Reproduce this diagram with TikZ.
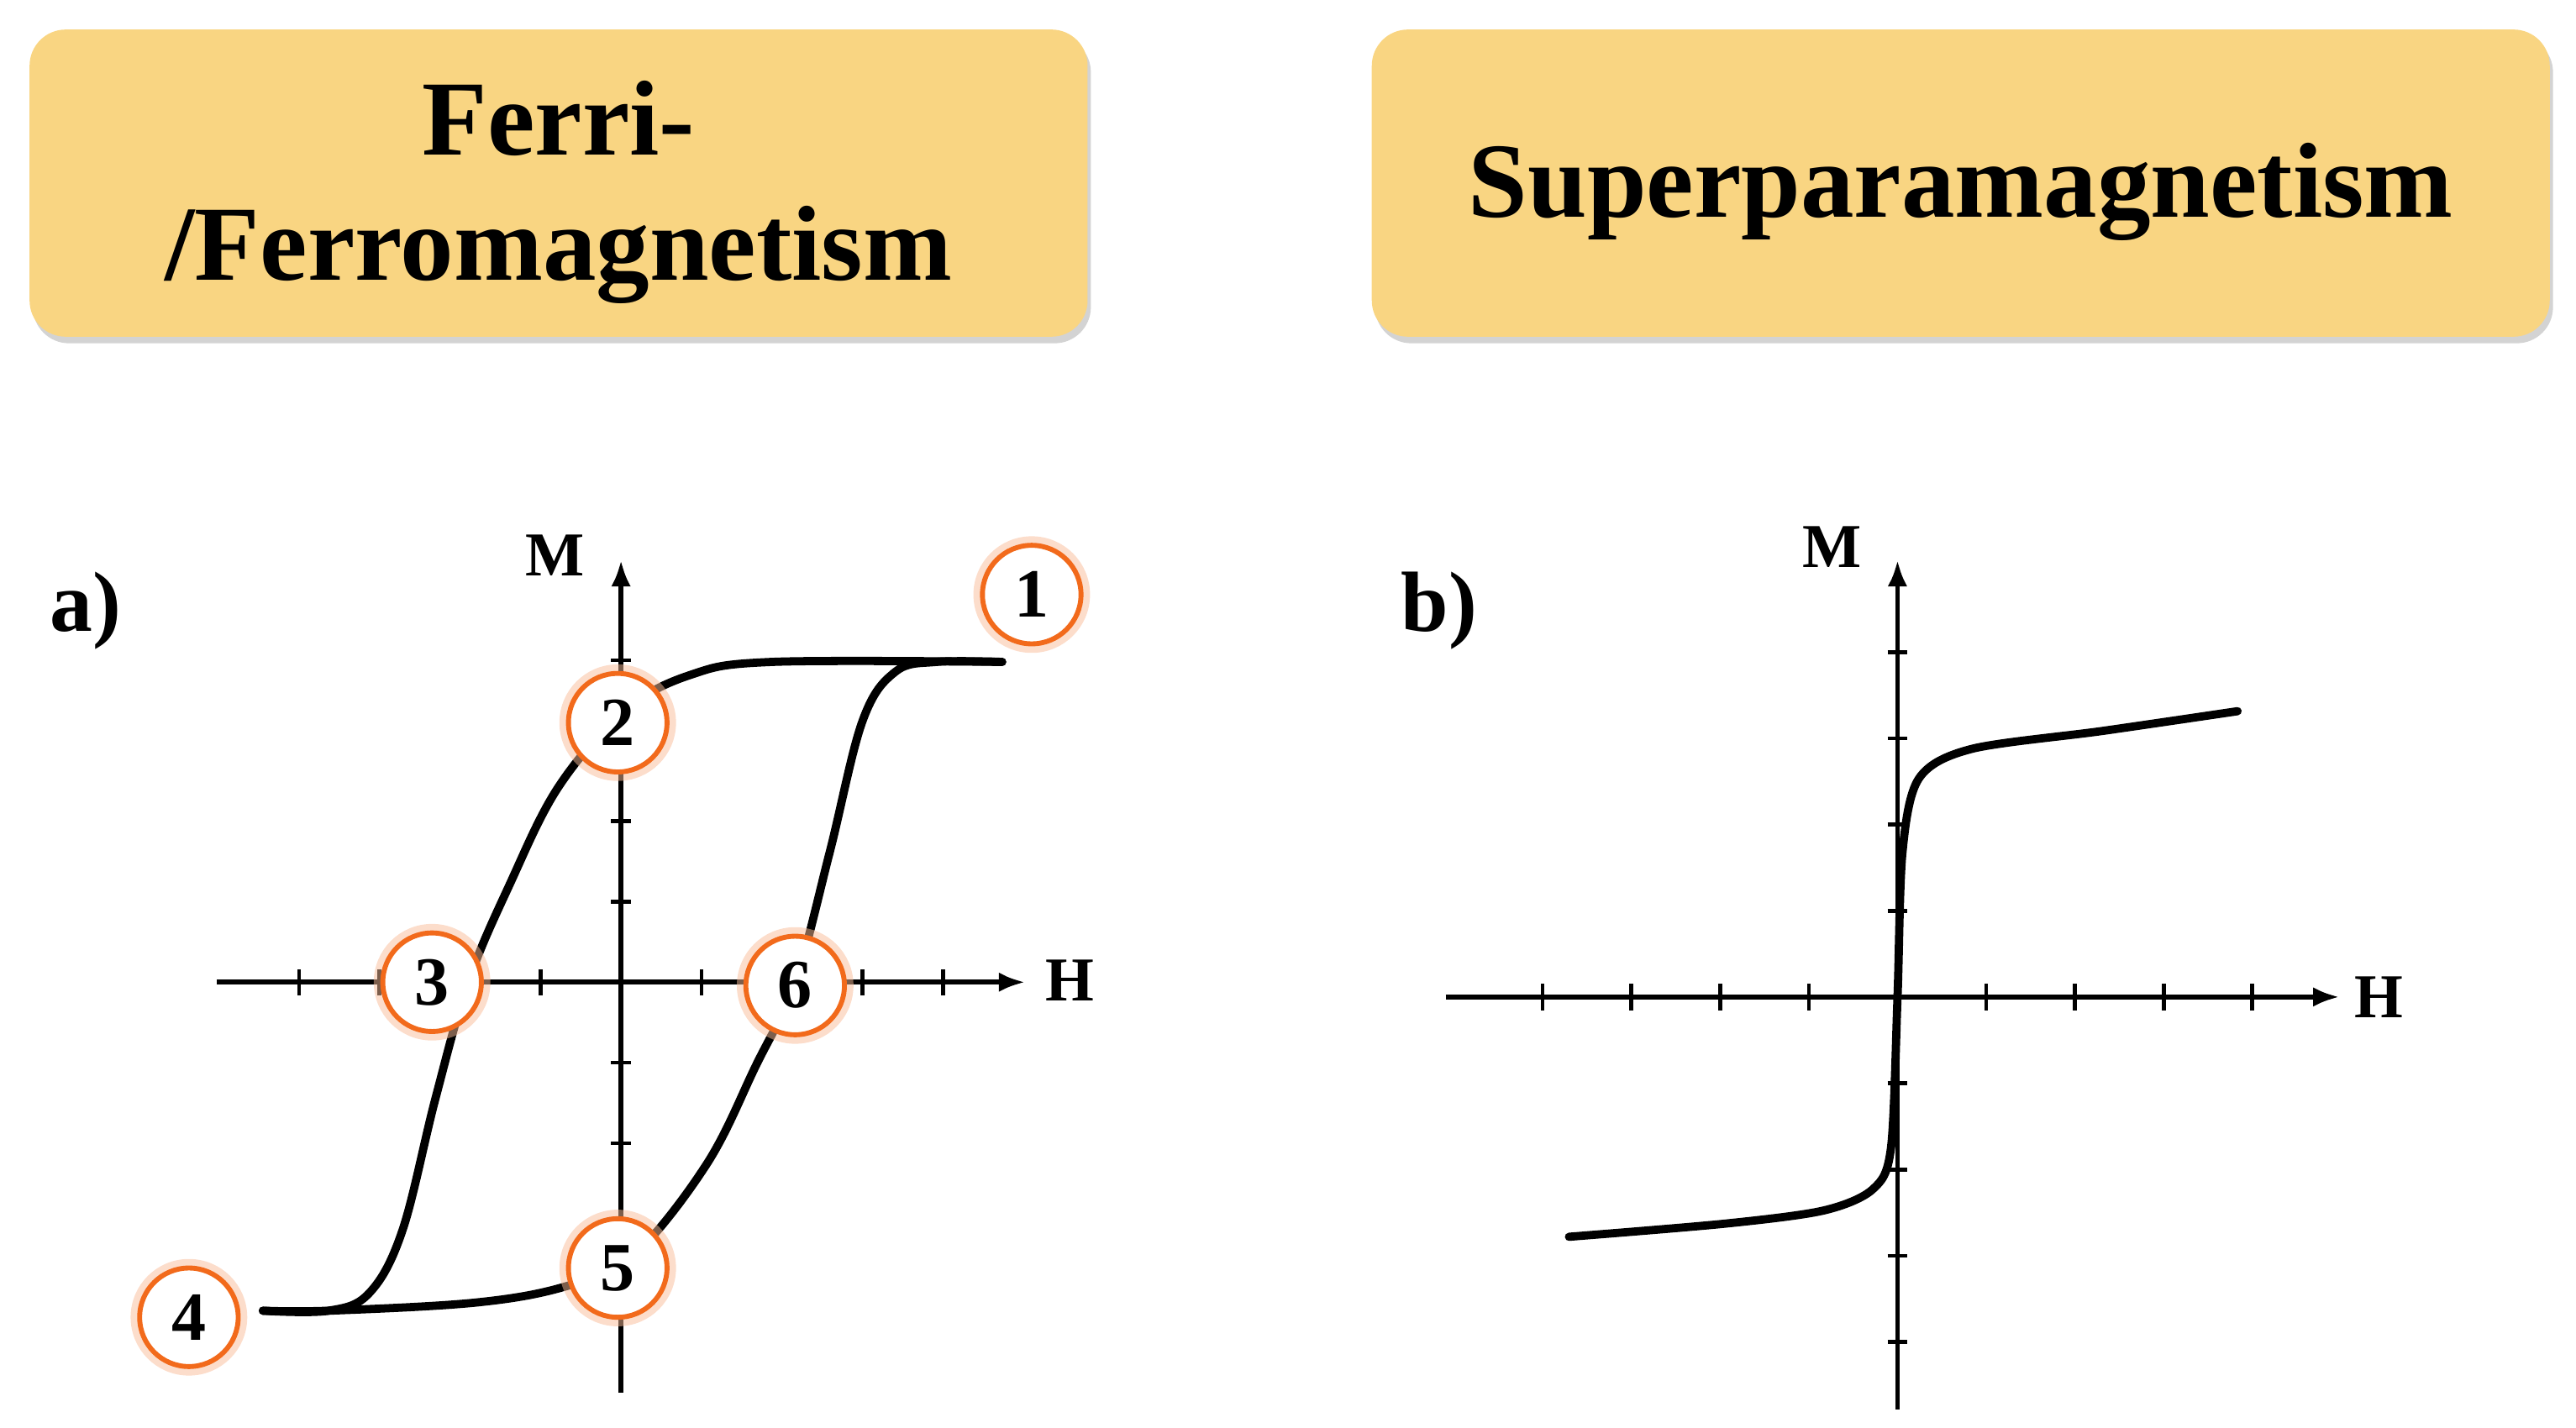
\documentclass[tikz,border=0pt]{standalone}
\usepackage{fontspec}
\setmainfont{Liberation Serif}
\usetikzlibrary{arrows.meta,shadows,calc}
\definecolor{boxfill}{HTML}{F9D582}
\definecolor{glow}{HTML}{F26A1B}
\tikzset{
  titlebox/.style={draw=none,fill=boxfill,rounded corners=22pt,drop shadow={shadow xshift=2pt,shadow yshift=-4pt,opacity=0.35}},
  axis/.style={line width=3pt,-{Latex[length=16pt,width=12pt]}},
  tick/.style={line width=2.4pt},
  curve/.style={line width=5pt,line join=round,line cap=round},
  numc/.style={circle,draw=glow,line width=3pt,fill=white,minimum size=60pt,inner sep=0pt,font=\fontsize{42}{42}\selectfont\bfseries},
  halo/.style={circle,draw=glow!45,line width=9pt,minimum size=62pt,inner sep=0pt,opacity=0.5},
  lbl/.style={font=\fontsize{38}{38}\selectfont\bfseries},
}
\begin{document}
\begin{tikzpicture}[x=1pt,y=1pt]
\useasboundingbox (0,0) rectangle (1568,869);
% title boxes
\node[titlebox,minimum width=644pt,minimum height=187pt] (tl) at (340,757.5) {};
\node[align=center,font=\fontsize{65}{76}\selectfont\bfseries] (tlt) at (340,752) {Ferri-\\/Ferromagnetism};
\node[titlebox,minimum width=717pt,minimum height=187pt] (tr) at (1193.5,757.5) {};
\node[font=\fontsize{65}{70}\selectfont\bfseries] (trt) at (1193.5,752) {Superparamagnetism};
% ---------- left plot
\coordinate (oa) at (378,271);
\coordinate (hl0) at (132,271); \coordinate (hl1) at (624,271);
\coordinate (ml0) at (378,21); \coordinate (ml1) at (378,528);
\draw[axis] (hl0) -- (hl1);
\draw[axis] (ml0) -- (ml1);
\foreach \k in {-4,-3,-2,-1,1,2,3,4}{
  \draw[tick] ($(oa)+(49*\k,-8)$) -- ($(oa)+(49*\k,8)$);
  \draw[tick] ($(oa)+(-6,49*\k)$) -- ($(oa)+(6,49*\k)$);
}
\node[lbl] (ha) at (651,272) {H};
\node[lbl] (ma) at (338,531) {M};
\node[font=\fontsize{52}{52}\selectfont\bfseries] (la) at (52,497) {a)};
\draw[curve] plot[smooth,tension=0.6] coordinates {(610,466) (470,466) (420,458) (380,436) (340,390) (310,330) (285,271) (265,200) (245,120) (225,82) (200,71) (160,71)};
\draw[curve] plot[smooth,tension=0.6] coordinates {(160,71) (200,71) (290,76) (345,86) (385,104) (430,160) (460,220) (484,271) (505,350) (525,430) (545,460) (570,466) (610,466)};
\foreach \n/\p in {1/{(628,507)},2/{(376,429)},3/{(263,271)},4/{(115,67)},5/{(376,97)},6/{(484,269)}}{
  \node[halo] (h\n) at \p {};
  \node[numc] (c\n) at \p {\n};
}
% ---------- right plot
\coordinate (ob) at (1155,262);
\coordinate (hr0) at (880,262); \coordinate (hr1) at (1424,262);
\coordinate (mr0) at (1155,11); \coordinate (mr1) at (1155,528);
\draw[axis] (hr0) -- (hr1);
\draw[axis] (mr0) -- (mr1);
\foreach \k in {-4,-3,-2,-1,1,2,3,4}{
  \draw[tick] ($(ob)+(54*\k,-8)$) -- ($(ob)+(54*\k,8)$);
  \draw[tick] ($(ob)+(-6,52.5*\k)$) -- ($(ob)+(6,52.5*\k)$);
}
\node[lbl] (hb) at (1448,262) {H};
\node[lbl] (mb) at (1115,536) {M};
\node[font=\fontsize{52}{52}\selectfont\bfseries] (lb) at (876,497) {b)};
\draw[curve] plot[smooth,tension=0.5] coordinates {(955,116) (1050,124) (1110,132) (1140,145) (1151,170) (1155,262) (1158,350) (1168,395) (1200,413) (1280,424) (1362,436)};
\end{tikzpicture}
\end{document}
